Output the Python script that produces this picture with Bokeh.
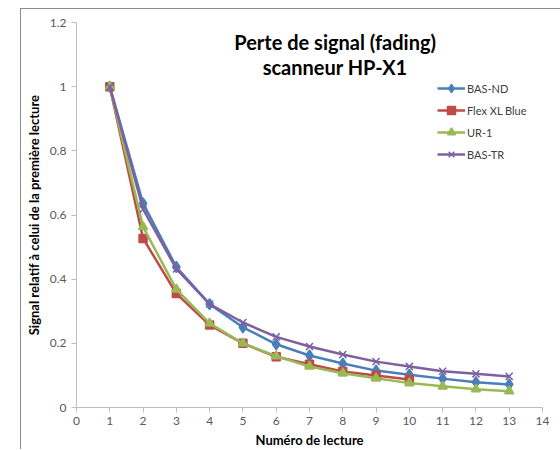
from bokeh.plotting import figure
from bokeh.models import Legend, LegendItem, FixedTicker, Label, Range1d
from bokeh.embed import file_html
from bokeh.resources import INLINE

lectures = [1, 2, 3, 4, 5, 6, 7, 8, 9, 10, 11, 12, 13]
lectures_flex = [1, 2, 3, 4, 5, 6, 7, 8, 9, 10]
bas_nd = [1.0, 0.636, 0.438, 0.322, 0.25, 0.197, 0.162, 0.137, 0.115, 0.102, 0.09, 0.079, 0.072]
flex_xl_blue = [1.0, 0.527, 0.355, 0.257, 0.2, 0.158, 0.135, 0.112, 0.1, 0.087]
ur_1 = [1.0, 0.563, 0.368, 0.262, 0.2, 0.16, 0.128, 0.107, 0.091, 0.076, 0.066, 0.057, 0.051]
bas_tr = [1.0, 0.618, 0.432, 0.322, 0.265, 0.22, 0.19, 0.165, 0.143, 0.128, 0.113, 0.105, 0.097]

x_ticks = list(range(0, 15))
y_ticks = [0, 0.2, 0.4, 0.6, 0.8, 1.0, 1.2]
y_tick_labels = ["0", "0.2", "0.4", "0.6", "0.8", "1", "1.2"]

FONT = "Lato"

p = figure(width=540, height=441, output_backend="svg", toolbar_location=None,
           x_range=Range1d(0, 14), y_range=Range1d(0, 1.2),
           min_border_left=55, min_border_right=19, min_border_top=13, min_border_bottom=43)
p.margin = (8, 0, 0, 20)
p.styles = {"border-top": "1px solid #8C8C8C", "border-left": "1px solid #8C8C8C"}
p.outline_line_color = None
p.xgrid.grid_line_color = None
p.ygrid.grid_line_color = None

for ax in (p.xaxis[0], p.yaxis[0]):
    ax.axis_line_color = "#BFBFBF"
    ax.major_tick_line_color = "#BFBFBF"
    ax.minor_tick_line_color = None
    ax.major_tick_out = 5
    ax.major_tick_in = 0
    ax.major_label_text_font = FONT
    ax.major_label_text_font_size = "12px"
    ax.major_label_text_color = "#595959"
    ax.axis_label_text_font = FONT
    ax.axis_label_text_font_size = "13px"
    ax.axis_label_text_font_style = "bold"
    ax.axis_label_text_color = "#000000"

p.xaxis.ticker = FixedTicker(ticks=x_ticks)
p.yaxis.ticker = FixedTicker(ticks=y_ticks)
p.yaxis.major_label_overrides = {t: l for t, l in zip(y_ticks, y_tick_labels)}
p.xaxis.axis_label = "Numéro de lecture"
p.yaxis.axis_label = "Signal relatif à celui de la première lecture"
p.xaxis.major_label_standoff = 4
p.yaxis.major_label_standoff = 5
p.xaxis.axis_label_standoff = 4
p.yaxis.axis_label_standoff = 5

series = [
    ("BAS-ND", lectures, bas_nd, "#4A7EBB", "diamond", 11),
    ("Flex XL Blue", lectures_flex, flex_xl_blue, "#BE4B48", "square", 8),
    ("UR-1", lectures, ur_1, "#98B954", "triangle", 9),
    ("BAS-TR", lectures, bas_tr, "#7D60A0", "x", 10),
]

items = []
for name, xs, ys, col, mk, sz in series:
    r1 = p.line(xs, ys, line_color=col, line_width=2.5)
    r2 = p.scatter(xs, ys, marker=mk, size=sz, fill_color=col, line_color=col, line_width=1.5)
    items.append(LegendItem(label=name, renderers=[r1, r2]))

legend = Legend(items=items, location=(361, 243))
legend.background_fill_alpha = 0
legend.border_line_color = None
legend.label_text_font = FONT
legend.label_text_font_size = "11px"
legend.label_text_color = "#404040"
legend.glyph_width = 28
legend.glyph_height = 20
legend.label_height = 20
legend.spacing = 2
legend.padding = 0
legend.margin = 0
legend.label_standoff = 2
p.add_layout(legend)

t1 = Label(x=7.77, y=1.14, text="Perte de signal (fading)", text_font=FONT,
           text_font_size="20px", text_font_style="bold", text_align="center",
           text_baseline="middle", text_color="#000000")
t2 = Label(x=7.77, y=1.06, text="scanneur HP-X1", text_font=FONT,
           text_font_size="20px", text_font_style="bold", text_align="center",
           text_baseline="middle", text_color="#000000")
p.add_layout(t1)
p.add_layout(t2)

open("out.html", "w").write(file_html(p, INLINE))
